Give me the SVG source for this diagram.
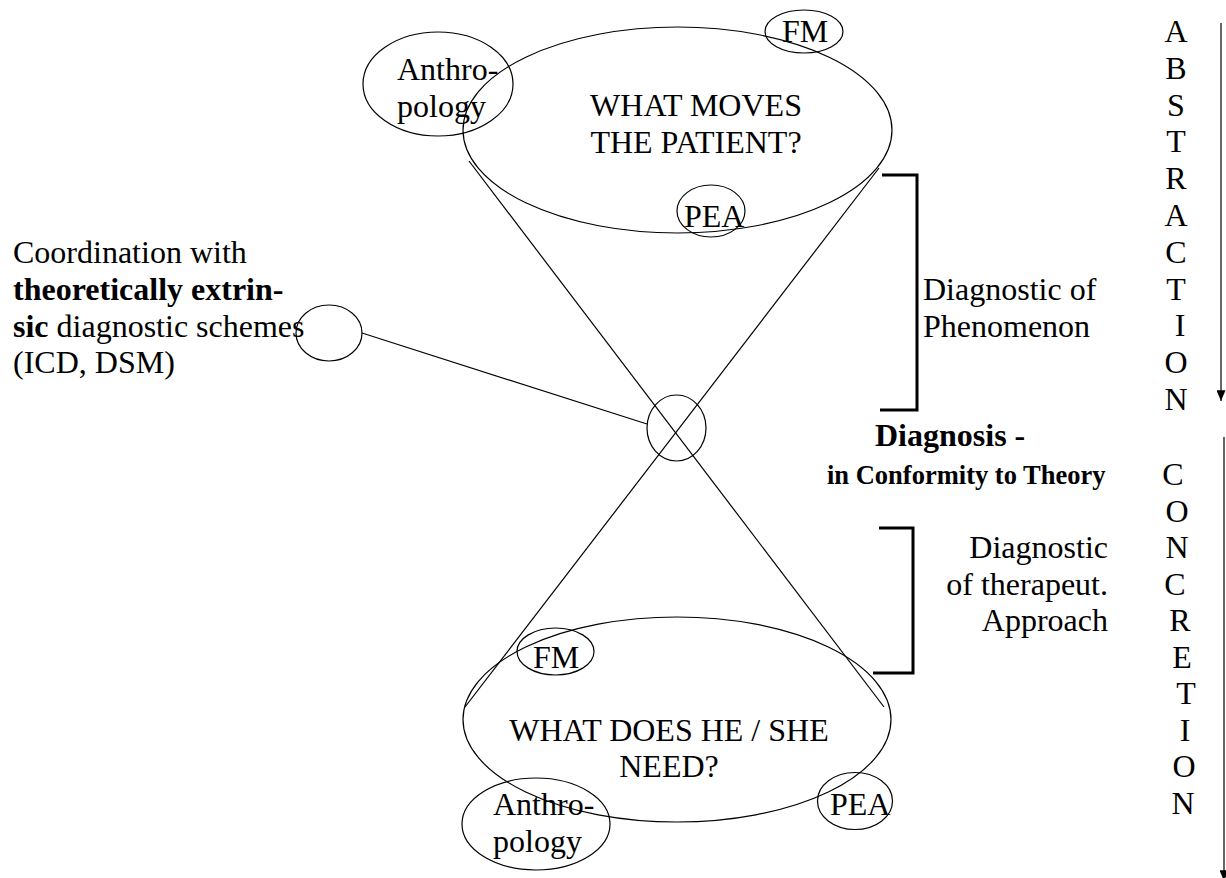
<svg xmlns="http://www.w3.org/2000/svg" width="1226" height="878" viewBox="0 0 1226 878" font-family="Liberation Serif, Times New Roman, Times, serif">
<style>
.shp{fill:none;stroke:#000;stroke-width:1.2}
.br{fill:none;stroke:#000;stroke-width:3}
.t{font-family:'Liberation Serif','Times New Roman',Times,serif;font-size:32px;fill:#000}
.b{font-weight:bold}
.s{font-size:26.5px}
.m{text-anchor:middle}
.e{text-anchor:end}
.ln{stroke:#000;stroke-width:1.2;fill:none}
</style>
<defs>
<marker id="ah" viewBox="0 0 12 10" refX="12" refY="5" markerWidth="12" markerHeight="9" markerUnits="userSpaceOnUse" orient="auto">
<path d="M0,0 L12,5 L0,10 Z" fill="#000"/>
</marker>
</defs>
<rect width="1226" height="878" fill="#fff"/>

<g id="connectors">
<line class="ln" x1="469" y1="161" x2="884" y2="707"/>
<line class="ln" x1="879" y1="168" x2="465" y2="707"/>
<line class="ln" x1="362" y1="333" x2="647" y2="424"/>
<line class="ln" x1="1221" y1="23" x2="1221" y2="401" marker-end="url(#ah)"/>
<line class="ln" x1="1224" y1="437" x2="1224" y2="881" marker-end="url(#ah)"/>
</g>

<g id="top-ellipse">
<ellipse class="shp" cx="677.5" cy="130" rx="214.5" ry="103"/>
<text class="t m" x="696" y="116">WHAT MOVES</text>
<text class="t m" x="696" y="153">THE PATIENT?</text>
</g>
<g id="top-anthropology">
<ellipse class="shp" cx="438" cy="84" rx="75" ry="52"/>
<text class="t" x="397" y="80">Anthro-</text>
<text class="t" x="397" y="117">pology</text>
</g>
<g id="top-fm">
<ellipse class="shp" cx="804" cy="31.5" rx="39" ry="21.5"/>
<text class="t" x="782" y="42">FM</text>
</g>
<g id="top-pea">
<ellipse class="shp" cx="711" cy="211" rx="34" ry="26"/>
<text class="t" x="684" y="227">PEA</text>
</g>

<g id="center-circle">
<ellipse class="shp" cx="676.5" cy="428" rx="29.5" ry="33"/>
</g>

<g id="extrinsic-circle">
<ellipse class="shp" cx="329" cy="333" rx="33" ry="28"/>
</g>
<g id="extrinsic-label">
<text class="t" x="13" y="263">Coordination with</text>
<text class="t b" x="13" y="300">theoretically extrin-</text>
<text class="t" x="13" y="337"><tspan class="b">sic</tspan> diagnostic schemes</text>
<text class="t" x="13" y="373">(ICD, DSM)</text>
</g>

<g id="bottom-ellipse">
<ellipse class="shp" cx="677" cy="719.5" rx="214" ry="102.5"/>
<text class="t m" x="669" y="741">WHAT DOES HE / SHE</text>
<text class="t m" x="669" y="777">NEED?</text>
</g>
<g id="bottom-fm">
<ellipse class="shp" cx="555.5" cy="651.5" rx="38.5" ry="23.5"/>
<text class="t" x="533" y="668">FM</text>
</g>
<g id="bottom-anthropology">
<ellipse class="shp" cx="536" cy="824" rx="74" ry="46"/>
<text class="t" x="493" y="815">Anthro-</text>
<text class="t" x="493" y="852">pology</text>
</g>
<g id="bottom-pea">
<ellipse class="shp" cx="855" cy="801" rx="37.5" ry="28.5"/>
<text class="t" x="830" y="815">PEA</text>
</g>

<g id="bracket-phenomenon">
<polyline class="br" points="882,175 917,175 917,410 880,410"/>
<text class="t" x="923" y="300">Diagnostic of</text>
<text class="t" x="923" y="337">Phenomenon</text>
</g>

<g id="diagnosis-label">
<text class="t b" x="875" y="446">Diagnosis -</text>
<text class="t b s" x="827" y="484">in Conformity to Theory</text>
</g>

<g id="bracket-approach">
<polyline class="br" points="879,528 913,528 913,673 873,673"/>
<text class="t e" x="1108" y="558">Diagnostic</text>
<text class="t e" x="1108" y="594.5">of therapeut.</text>
<text class="t e" x="1108" y="631">Approach</text>
</g>

<g id="abstraction">
<text class="t m" x="1176" y="42">A</text>
<text class="t m" x="1176" y="78.8">B</text>
<text class="t m" x="1176" y="115.6">S</text>
<text class="t m" x="1176" y="152.4">T</text>
<text class="t m" x="1176" y="189.2">R</text>
<text class="t m" x="1176" y="226">A</text>
<text class="t m" x="1176" y="262.8">C</text>
<text class="t m" x="1176" y="299.6">T</text>
<text class="t m" x="1180" y="336.4">I</text>
<text class="t m" x="1176" y="373.2">O</text>
<text class="t m" x="1176" y="410">N</text>
</g>

<g id="concretion">
<text class="t m" x="1173" y="485">C</text>
<text class="t m" x="1177" y="521.5">O</text>
<text class="t m" x="1177" y="558">N</text>
<text class="t m" x="1175" y="594.5">C</text>
<text class="t m" x="1180" y="631">R</text>
<text class="t m" x="1182" y="667.5">E</text>
<text class="t m" x="1186" y="704">T</text>
<text class="t m" x="1185" y="740.5">I</text>
<text class="t m" x="1184" y="777">O</text>
<text class="t m" x="1183" y="813.5">N</text>
</g>
</svg>
